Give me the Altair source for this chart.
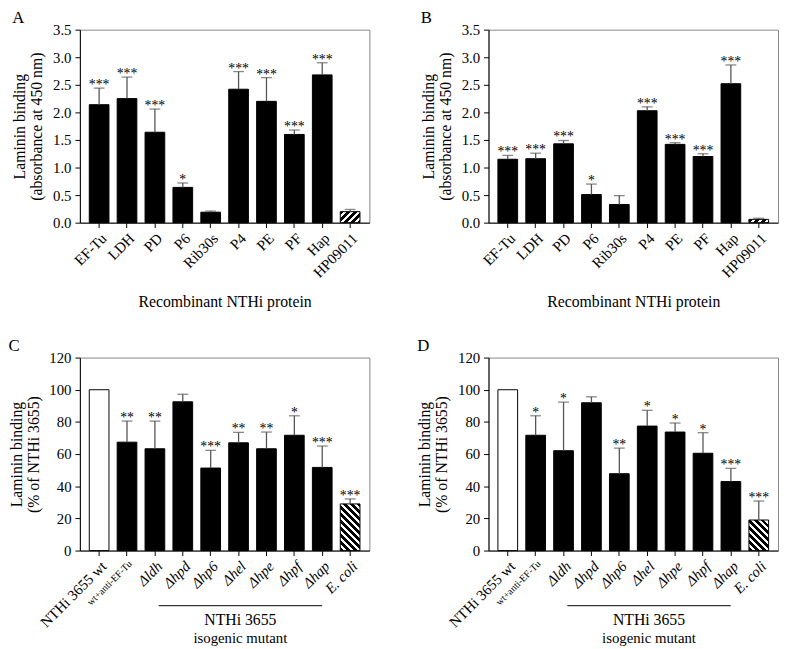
import math
import altair as alt
import pandas as pd

# ---------------- data ----------------
cats_ab = ["EF-Tu", "LDH", "PD", "P6", "Rib30s", "P4", "PE", "PF", "Hap", "HP09011"]
kind_ab = ["solid"] * 9 + ["hatch"]

a_mean = [2.14, 2.25, 1.64, 0.64, 0.19, 2.42, 2.20, 1.60, 2.68, 0.20]
a_err = [2.44, 2.64, 2.06, 0.72, 0.21, 2.74, 2.63, 1.68, 2.90, 0.24]
a_sig = ["***", "***", "***", "*", "", "***", "***", "***", "***", ""]

b_mean = [1.15, 1.16, 1.43, 0.51, 0.33, 2.03, 1.42, 1.20, 2.52, 0.06]
b_err = [1.22, 1.26, 1.49, 0.70, 0.49, 2.10, 1.45, 1.25, 2.86, 0.08]
b_sig = ["***", "***", "***", "*", "", "***", "***", "***", "***", ""]

cats_cd = ["NTHi 3655 wt", "wt+anti-EF-Tu", "Δldh", "Δhpd", "Δhp6",
           "Δhel", "Δhpe", "Δhpf", "Δhap", "E. coli"]
kind_cd = ["open"] + ["solid"] * 8 + ["hatch"]

c_mean = [100, 67.4, 63.3, 92.5, 51.3, 67.0, 63.3, 71.7, 51.7, 29.0]
c_err = [None, 80.5, 80.5, 97.2, 62.3, 73.5, 73.7, 83.8, 65.0, 32.1]
c_sig = ["", "**", "**", "", "***", "**", "**", "*", "***", "***"]

d_mean = [100, 71.7, 62.1, 91.9, 47.8, 77.4, 73.7, 60.5, 42.9, 19.0]
d_err = [None, 83.8, 92.3, 95.6, 63.7, 87.2, 79.3, 73.3, 51.1, 30.8]
d_sig = ["", "*", "*", "", "**", "*", "*", "*", "***", "***"]

# ---------------- style ----------------
FONT = "Liberation Serif"
W, H = 294, 196
BAR = 20


def hatch_gradient(value, ymax, direction, period=5.0, black=0.55):
    h = max(value / ymax * H, 1.0)
    w = float(BAR)
    r = h / w
    k = (1 + r) / (1 + r * r)
    if direction == "/":
        x1, y1, x2, y2 = 0, 0, k, k * r
    else:
        x1, y1, x2, y2 = 0, 1, k, 1 - k * r
    D = (w + h) / math.sqrt(2)
    stops = []
    o = 0.0
    col = "black"
    while o < 1.0:
        seg = (black if col == "black" else 1 - black) * period / D
        end = min(o + seg, 1.0)
        stops.append(alt.GradientStop(color=col, offset=o))
        stops.append(alt.GradientStop(color=col, offset=end))
        o = end
        col = "white" if col == "black" else "black"
    return alt.LinearGradient(gradient="linear", stops=stops,
                              x1=x1, y1=y1, x2=x2, y2=y2)


def panel(letter, cats, kinds, mean, err, sig, ymax, ystep, yfmt, ytitle,
          xtitle, hatch_dir, cd=False):
    df = pd.DataFrame({"cat": cats, "kind": kinds, "mean": mean,
                       "err": err, "sig": sig})
    df["top"] = [e if e is not None and e == e else m for m, e in zip(mean, err)]

    if cd:
        label_size = {"condition": {"test": "datum.value == 'wt+anti-EF-Tu'",
                                    "value": 10}, "value": 15}
        label_style = {"condition": {"test": "datum.value != 'NTHi 3655 wt' && datum.value != 'wt+anti-EF-Tu'",
                                     "value": "italic"}, "value": "normal"}
        xaxis = alt.Axis(labelAngle=-45, labelFontSize=label_size,
                         labelFontStyle=label_style, tickSize=5,
                         labelPadding=3, labelOverlap=False, title=None)
    else:
        xaxis = alt.Axis(labelAngle=-45, labelFontSize=15, tickSize=5,
                         labelPadding=3, labelOverlap=False, title=xtitle,
                         titleFontSize=16, titlePadding=14)

    nt = int(round(ymax / ystep))
    yvals = [round(i * ystep, 2) for i in range(nt + 1)]

    x = alt.X("cat:N", sort=cats,
              scale=alt.Scale(paddingInner=0, paddingOuter=0.19), axis=xaxis)
    yaxis = alt.Axis(values=yvals, format=yfmt, tickSize=5,
                     labelPadding=4, labelFontSize=15, grid=False,
                     labelOverlap=False, labelFlush=False,
                     title=ytitle, titleFontSize=16,
                     titlePadding=8, titleLineHeight=17)
    yscale = alt.Scale(domain=[0, ymax], nice=False)

    def Y(field):
        return alt.Y(field, type="quantitative", scale=yscale, axis=yaxis)

    base = alt.Chart(df).encode(x=x)

    bars = base.transform_filter("datum.kind != 'hatch'").mark_bar(
        size=BAR, stroke="black", strokeWidth=1).encode(
        y=Y("mean"),
        fill=alt.Fill("kind:N", scale=alt.Scale(domain=["solid", "open"],
                                                range=["black", "white"]),
                      legend=None))

    hv = [m for m, kk in zip(mean, kinds) if kk == "hatch"][0]
    hatch = base.transform_filter("datum.kind == 'hatch'").mark_bar(
        size=BAR, stroke="black", strokeWidth=1,
        fill=hatch_gradient(hv, ymax, hatch_dir)).encode(y=Y("mean"))

    stem = base.transform_filter("isValid(datum.err)").mark_rule(
        color="#555555", strokeWidth=1.3).encode(y=Y("mean"), y2="err:Q")
    cap = base.transform_filter("isValid(datum.err)").mark_tick(
        color="#555555", thickness=1.3, size=11).encode(y=Y("err"))
    stars = base.mark_text(font=FONT, fontSize=14, baseline="alphabetic",
                           dy=1, fill="black").encode(y=Y("top"), text="sig:N")

    layers = [bars, hatch, stem, cap, stars]

    if cd:
        one = pd.DataFrame({"k": [0]})
        line = alt.Chart(one).mark_rule(color="black", strokeWidth=1).encode(
            x=alt.value(80), x2=alt.value(246), y=alt.value(H + 56))
        t1 = alt.Chart(one).mark_text(text="NTHi 3655", font=FONT,
                                      fontSize=16, baseline="middle",
                                      fill="black").encode(
            x=alt.value(163), y=alt.value(H + 71))
        t2 = alt.Chart(one).mark_text(text="isogenic mutant", font=FONT,
                                      fontSize=15, baseline="middle",
                                      fill="black").encode(
            x=alt.value(163), y=alt.value(H + 89))
        layers += [line, t1, t2]

    return alt.layer(*layers).properties(
        width=W, height=H,
        title=alt.TitleParams(letter, anchor="start", fontSize=17,
                              font=FONT, fontWeight="normal", offset=-4))


ytitle_ab = ["Laminin binding", "(absorbance at 450 nm)"]
ytitle_cd = ["Laminin binding", "(% of NTHi 3655)"]
xtitle_ab = "Recombinant NTHi protein"

pA = panel("A", cats_ab, kind_ab, a_mean, a_err, a_sig, 3.5, 0.5, ".1f",
           ytitle_ab, xtitle_ab, "/")
pB = panel("B", cats_ab, kind_ab, b_mean, b_err, b_sig, 3.5, 0.5, ".1f",
           ytitle_ab, xtitle_ab, "/")
pC = panel("C", cats_cd, kind_cd, c_mean, c_err, c_sig, 120, 20, "d",
           ytitle_cd, None, "\\", cd=True)
pD = panel("D", cats_cd, kind_cd, d_mean, d_err, d_sig, 120, 20, "d",
           ytitle_cd, None, "\\", cd=True)

top = alt.hconcat(pA, pB, spacing=121, bounds="flush")
bottom = alt.hconcat(pC, pD, spacing=121, bounds="flush")

chart = alt.vconcat(top, bottom, spacing=H + 137, bounds="flush").properties(
    padding={"left": 0, "top": -5, "right": 0, "bottom": 0}
).configure(font=FONT).configure_view(
    stroke="#888888", strokeWidth=1
).configure_axis(
    domainColor="black", tickColor="black", labelColor="black",
    titleColor="black", labelFont=FONT, titleFont=FONT,
    titleFontWeight="normal", domainWidth=1, tickWidth=1
).configure_text(font=FONT)

chart.save("out.html", embed_options={"renderer": "svg", "actions": False})
